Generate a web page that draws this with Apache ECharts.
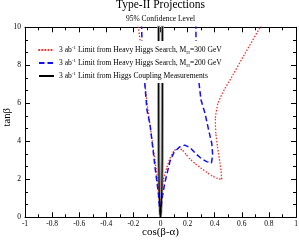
<!DOCTYPE html>
<html><head><meta charset="utf-8">
<script src="https://cdn.jsdelivr.net/npm/echarts@6/dist/echarts.min.js"></script>
<style>html,body{margin:0;padding:0;background:#fff}#c{width:299px;height:240px}</style>
</head><body><div id="c"></div>
<script>
// cos(beta-alpha) range and tanBeta range
const xRange = [-1, 1];
const yRange = [0, 10];

// 3 ab^-1 heavy Higgs search, M_H = 300 GeV (red dotted)
const redX = [-0.164, -0.151, -0.129, -0.102, -0.077, -0.055, -0.041, -0.026, -0.015, -0.004, 0.0,
  0.009, 0.022, 0.045, 0.07, 0.1, 0.13, 0.16, 0.19, 0.22, 0.26, 0.3, 0.34, 0.38, 0.42, 0.452,
  0.446, 0.439, 0.421, 0.408, 0.405, 0.424, 0.469, 0.513, 0.624, 0.734, 0.75];
const redY = [10.02, 9.33, 8.0, 6.17, 4.86, 3.7, 3.02, 2.23, 1.44, 0.54, 0.12,
  1.44, 2.0, 2.6, 3.1, 3.5, 3.63, 3.55, 3.3, 3.05, 2.8, 2.58, 2.38, 2.18, 2.05, 1.99,
  2.49, 2.86, 3.7, 4.44, 5.2, 6.01, 6.7, 7.23, 8.63, 9.99, 10.2];

// 3 ab^-1 heavy Higgs search, M_H = 200 GeV (blue dashed)
const blueX = [-0.14, -0.137, -0.114, -0.1, -0.077, -0.055, -0.041, -0.016, -0.004, 0.0,
  0.009, 0.033, 0.07, 0.1, 0.14, 0.18, 0.22, 0.26, 0.3, 0.34, 0.376,
  0.385, 0.378, 0.36, 0.328, 0.299, 0.284, 0.269, 0.262, 0.261];
const blueY = [10.2, 9.33, 6.86, 5.65, 4.86, 3.54, 2.66, 1.28, 0.23, 0.04,
  0.91, 1.85, 2.95, 3.42, 3.7, 3.8, 3.65, 3.35, 3.1, 2.93, 2.86,
  3.28, 3.91, 4.44, 5.49, 6.17, 7.07, 8.28, 9.33, 10.2];

// 3 ab^-1 Higgs coupling measurements (black)
const blackX = [-0.014, -0.014, -0.013, -0.01, -0.004, 0.0, 0.004, 0.01, 0.013, 0.014, 0.014];
const blackY = [10.2, 6.0, 3.0, 1.5, 0.5, 0.02, 0.5, 1.5, 3.0, 6.0, 10.2];

const names = [
  '3 ab-1 Limit from Heavy Higgs Search, MH=300 GeV',
  '3 ab-1 Limit from Heavy Higgs Search, MH=200 GeV',
  '3 ab-1 Limit from Higgs Coupling Measurements'
];
const richNames = {};
richNames[names[0]] = '3 ab{sup|-1} Limit from Heavy Higgs Search, M{sub|H}=300 GeV';
richNames[names[1]] = '3 ab{sup|-1} Limit from Heavy Higgs Search, M{sub|H}=200 GeV';
richNames[names[2]] = '3 ab{sup|-1} Limit from Higgs Coupling Measurements';

const pairs = (xs, ys) => xs.map((x, i) => [x, ys[i]]);
const F = 'Liberation Serif';

const axisCommon = {
  axisLine: {onZero: false, lineStyle: {color: '#000', width: 1}},
  axisTick: {inside: true, length: 5, lineStyle: {color: '#000', width: 1}},
  splitLine: {show: false}
};

const chart = echarts.init(document.getElementById('c'), null, {renderer: 'canvas'});
chart.setOption({
  animation: false,
  backgroundColor: '#fff',
  title: {
    text: 'Type-II Projections', subtext: '95% Confidence Level',
    left: 160.5, top: -1, padding: 0, itemGap: 4, textAlign: 'center',
    textStyle: {fontFamily: F, fontSize: 11.5, fontWeight: 'normal', color: '#000'},
    subtextStyle: {fontFamily: F, fontSize: 7.5, color: '#000'}
  },
  grid: {left: 25, right: 3, top: 27.3, bottom: 22.7, containLabel: false, outerBoundsMode: 'none'},
  legend: {
    orient: 'vertical', left: 35, top: 41, padding: [4, 4, 2, 3], itemGap: 3,
    itemWidth: 15, itemHeight: 10, backgroundColor: '#fff', data: names, z: 10,
    itemStyle: {opacity: 0, color: 'transparent', borderColor: 'transparent'},
    formatter: n => richNames[n],
    textStyle: {fontFamily: F, fontSize: 7.6, color: '#000', lineHeight: 10,
      rich: {
        sup: {fontFamily: F, fontSize: 5, lineHeight: 6, verticalAlign: 'top', color: '#000'},
        sub: {fontFamily: F, fontSize: 5, lineHeight: 6, verticalAlign: 'bottom', color: '#000'}
      }}
  },
  xAxis: [
    Object.assign({}, axisCommon, {
      type: 'value', min: xRange[0], max: xRange[1], interval: 0.2, position: 'bottom',
      minorTick: {show: true, splitNumber: 2, length: 3, lineStyle: {color: '#000'}},
      axisLabel: {fontFamily: F, fontSize: 7.5, color: '#000', margin: 3, showMinLabel: true, showMaxLabel: true},
      name: 'cos(β-α)', nameLocation: 'middle', nameGap: 9, nameMoveOverlap: false,
      nameTextStyle: {fontFamily: F, fontSize: 11, color: '#000'}
    }),
    Object.assign({}, axisCommon, {
      type: 'value', min: xRange[0], max: xRange[1], interval: 0.2, position: 'top',
      minorTick: {show: true, splitNumber: 2, length: 3, lineStyle: {color: '#000'}},
      axisLabel: {show: false}
    })
  ],
  yAxis: [
    Object.assign({}, axisCommon, {
      type: 'value', min: yRange[0], max: yRange[1], interval: 2, position: 'left',
      minorTick: {show: true, splitNumber: 3, length: 3, lineStyle: {color: '#000'}},
      axisLabel: {fontFamily: F, fontSize: 7.5, color: '#000', margin: 4, showMinLabel: true, showMaxLabel: true},
      name: 'tanβ', nameLocation: 'middle', nameGap: 12, nameMoveOverlap: false,
      nameTextStyle: {fontFamily: F, fontSize: 10.5, color: '#000', padding: [0, 0, 0, 10]}
    }),
    Object.assign({}, axisCommon, {
      type: 'value', min: yRange[0], max: yRange[1], interval: 2, position: 'right',
      minorTick: {show: true, splitNumber: 3, length: 3, lineStyle: {color: '#000'}},
      axisLabel: {show: false}
    })
  ],
  series: [
    {type: 'line', name: 'halo', data: pairs(blackX, blackY), symbol: 'none', silent: true,
      lineStyle: {color: '#9a9a9a', width: 3}, z: 1},
    {type: 'line', name: names[0], data: pairs(redX, redY), symbol: 'none', z: 2, smooth: 0.15,
      itemStyle: {color: '#ff2a2a'},
      lineStyle: {color: '#ff2a2a', width: 1.4, type: [0.3, 2.8], cap: 'round'}},
    {type: 'line', name: names[1], data: pairs(blueX, blueY), symbol: 'none', z: 3,
      itemStyle: {color: '#1010ff'},
      lineStyle: {color: '#1010ff', width: 1.5, type: [5.5, 3]}},
    {type: 'line', name: names[2], data: pairs(blackX, blackY), symbol: 'none', z: 4,
      itemStyle: {color: '#000'},
      lineStyle: {color: '#000', width: 1.1}}
  ]
});
</script></body></html>
